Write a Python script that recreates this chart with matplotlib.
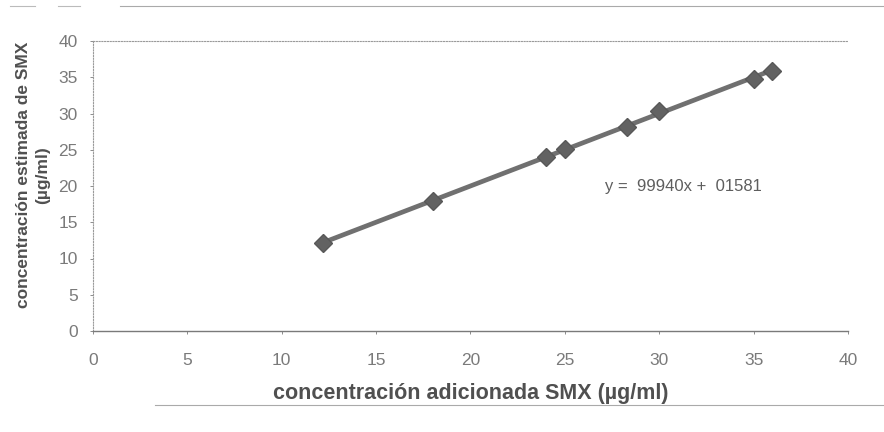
import numpy as np
import matplotlib.pyplot as plt
from matplotlib.lines import Line2D

# SMX recovery: added vs. estimated concentration (ug/ml)
added = [12.2, 18.0, 24.0, 25.0, 28.3, 30.0, 35.0, 36.0]
estimated = [12.2, 17.9, 24.0, 25.1, 28.1, 30.3, 34.8, 35.8]
slope = 0.9994
intercept = 0.01581
eq_label = "y =  99940x +  01581"
ticks = [0, 5, 10, 15, 20, 25, 30, 35, 40]

plt.rcParams['font.family'] = ['Liberation Sans', 'DejaVu Sans']

dpi = 100
fig = plt.figure(dpi=dpi, figsize=(884 / dpi, 432 / dpi))
ax = fig.add_axes([93 / 884, 1 - 331 / 432, (848 - 93) / 884, (331 - 41) / 432])

xfit = np.array([min(added), max(added)])
ax.plot(xfit, slope * xfit + intercept, color="#707070", lw=3.4, zorder=2)
ax.plot(added, estimated, linestyle="none", marker="D", ms=9.5,
        color="#626262", mec="#585858", zorder=3)

ax.text(27.1, 20.0, eq_label, fontsize=12, color="#5e5e5e",
        va="center", ha="left")

ax.set_xlim(0, 40)
ax.set_ylim(0, 40)
ax.set_xticks(ticks)
ax.set_yticks(ticks)
ax.tick_params(colors="#7a7a7a", labelsize=12.5, length=2, width=0.6)
ax.tick_params(axis="x", pad=14)
ax.tick_params(axis="y", pad=9)
ax.spines["right"].set_visible(False)
for s in ["top", "left"]:
    ax.spines[s].set_linestyle((0, (1, 1.5)))
    ax.spines[s].set_color("#9a9a9a")
    ax.spines[s].set_linewidth(0.8)
ax.spines["bottom"].set_color("#7a7a7a")
ax.spines["bottom"].set_linewidth(1.0)

ax.set_xlabel("concentración adicionada SMX (µg/ml)", fontsize=15.5,
              fontweight="bold", color="#505050", labelpad=11)
ax.set_ylabel("concentración estimada de SMX\n(µg/ml)", fontsize=12.5,
              fontweight="bold", color="#505050", linespacing=1.35)
ax.yaxis.set_label_coords(-0.057, 0.538)

# faint frame lines at the top and bottom of the page
fig.add_artist(Line2D([120 / 884, 1], [1 - 6 / 432] * 2, color="#aaaaaa", lw=0.8))
fig.add_artist(Line2D([10 / 884, 35 / 884], [1 - 6 / 432] * 2, color="#bbbbbb", lw=0.8))
fig.add_artist(Line2D([58 / 884, 80 / 884], [1 - 6 / 432] * 2, color="#bbbbbb", lw=0.8))
fig.add_artist(Line2D([155 / 884, 1], [1 - 405 / 432] * 2, color="#aaaaaa", lw=0.8))

fig.savefig("out.png", dpi=dpi)
